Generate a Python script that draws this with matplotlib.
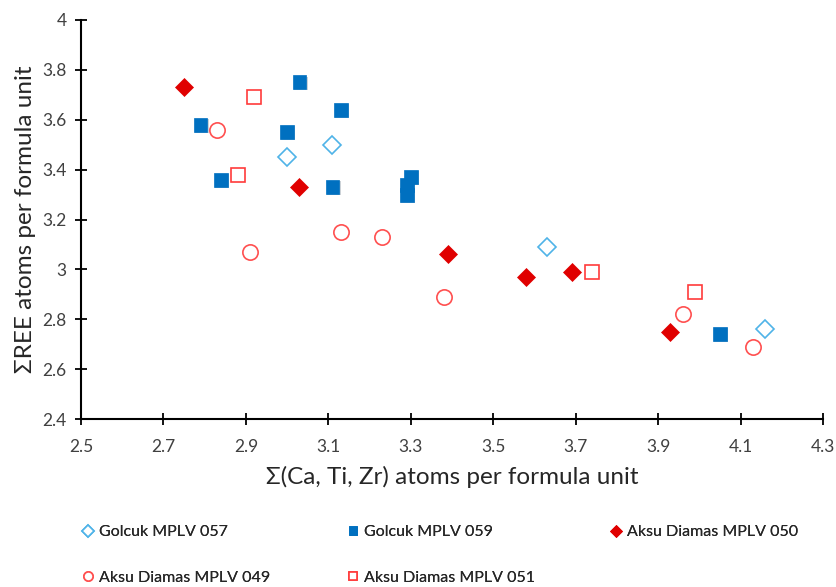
import matplotlib
matplotlib.use("Agg")
import matplotlib.pyplot as plt
import matplotlib.patheffects as pe

plt.rcParams['font.family'] = ['Lato', 'DejaVu Sans']

# Data
g057_x = [3.00, 3.11, 3.63, 4.16]
g057_y = [3.45, 3.50, 3.09, 2.76]

g059_x = [2.79, 2.84, 3.00, 3.03, 3.13, 3.11, 3.30, 3.29, 3.29, 4.05]
g059_y = [3.58, 3.36, 3.55, 3.75, 3.64, 3.33, 3.37, 3.34, 3.30, 2.74]

a050_x = [2.75, 3.03, 3.39, 3.58, 3.69, 3.93]
a050_y = [3.73, 3.33, 3.06, 2.97, 2.99, 2.75]

a049_x = [2.83, 2.91, 3.13, 3.23, 3.38, 3.96, 4.13]
a049_y = [3.56, 3.07, 3.15, 3.13, 2.89, 2.82, 2.69]

a051_x = [2.92, 2.88, 3.74, 3.99]
a051_y = [3.69, 3.38, 2.99, 2.91]

labels = ["Golcuk MPLV 057", "Golcuk MPLV 059", "Aksu Diamas MPLV 050",
          "Aksu Diamas MPLV 049", "Aksu Diamas MPLV 051"]

xticks = [2.5, 2.7, 2.9, 3.1, 3.3, 3.5, 3.7, 3.9, 4.1, 4.3]
yticks = [2.4, 2.6, 2.8, 3.0, 3.2, 3.4, 3.6, 3.8, 4.0]
ytick_labels = ["2.4", "2.6", "2.8", "3", "3.2", "3.4", "3.6", "3.8", "4"]

W, H = 837, 587
fig = plt.figure(figsize=(W/100, H/100), dpi=100)
ax = fig.add_axes([81/W, 1-419/H, (823-81)/W, (419-20)/H])

h1, = ax.plot(g057_x, g057_y, linestyle='none', marker='D', ms=9.5,
              mfc='white', mec='#4fb3e8', mew=1.2, label=labels[0])
h2, = ax.plot(g059_x, g059_y, linestyle='none', marker='s', ms=10,
              mfc='#0070c0', mec='#0070c0', mew=0.5, label=labels[1],
              path_effects=[pe.SimplePatchShadow(offset=(0.8, -0.8), alpha=0.2), pe.Normal()])
h3, = ax.plot(a050_x, a050_y, linestyle='none', marker='D', ms=9.5,
              mfc='#e00000', mec='#e00000', mew=0.5, label=labels[2])
h4, = ax.plot(a049_x, a049_y, linestyle='none', marker='o', ms=11,
              mfc='white', mec='#ff4f4f', mew=1.2, label=labels[3])
h5, = ax.plot(a051_x, a051_y, linestyle='none', marker='s', ms=9.5,
              mfc='white', mec='#ff3b3b', mew=1.2, label=labels[4])

ax.set_xlim(2.5, 4.3)
ax.set_ylim(2.4, 4.0)
ax.set_xticks(xticks)
ax.set_xticklabels([f"{t:g}" for t in xticks])
ax.set_yticks(yticks)
ax.set_yticklabels(ytick_labels)
for s in ['top', 'right']:
    ax.spines[s].set_visible(False)
for s in ['left', 'bottom']:
    ax.spines[s].set_linewidth(1.5)
    ax.spines[s].set_color('black')
ax.tick_params(direction='inout', length=9, width=1.3, labelsize=12.5, colors='black',
               labelcolor='#404040')
ax.tick_params(axis='x', pad=10)
ax.tick_params(axis='y', pad=6)

ax.set_xlabel("Σ(Ca, Ti, Zr) atoms per formula unit", fontsize=17.5, color='#262626', labelpad=8)
ax.set_ylabel("ΣREE atoms per formula unit", fontsize=17.5, color='#262626', labelpad=4)

# legend entries at fixed positions (marker centre x, row centre y in px)
leg_pos = [(88, 532), (353, 532), (616, 532), (88, 578), (353, 578)]
handles = [h1, h2, h3, h4, h5]
fs = 11.5
hl = 0.6
for h, (px, py) in zip(handles, leg_pos):
    off = hl * fs / 2 * 100 / 72
    lg = fig.legend(handles=[h], loc='center left',
                    bbox_to_anchor=((px - off) / W, 1 - py / H), frameon=False,
                    fontsize=fs, handlelength=hl, handletextpad=0.4,
                    borderpad=0, borderaxespad=0, markerscale=0.6)
    for t in lg.get_texts():
        t.set_color('#262626')
    fig.add_artist(lg)

fig.savefig("out.png", dpi=100)
